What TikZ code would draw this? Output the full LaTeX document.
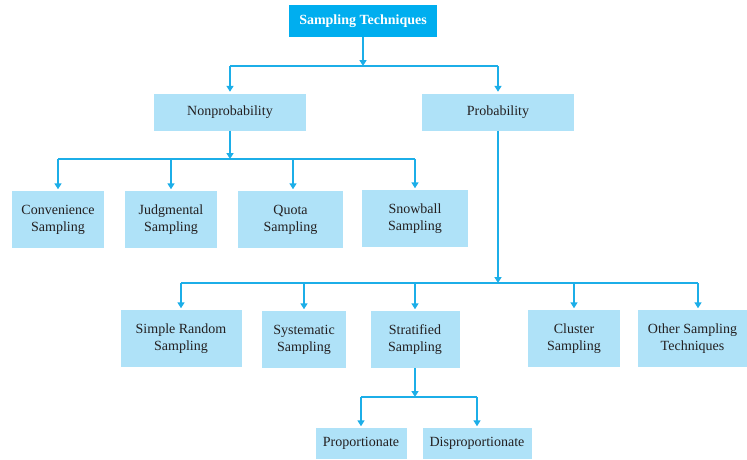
\documentclass[tikz,border=0pt]{standalone}
\usepackage{fontspec}
\setmainfont{Liberation Serif}
\usetikzlibrary{arrows.meta}
\definecolor{topc}{HTML}{00AEEF}
\definecolor{boxc}{HTML}{AFE2F8}
\definecolor{linec}{HTML}{1CAEE8}
\definecolor{txt}{HTML}{231F20}
\begin{document}
\begin{tikzpicture}[x=1pt,y=-1pt,
 box/.style={fill=boxc, text=txt, inner sep=0pt, align=center, font=\fontsize{14}{17}\selectfont},
 conn/.style={draw=linec, line width=1.8pt},
 arr/.style={conn, -{Triangle[length=6pt,width=7pt]}, shorten >=1.5pt},
]
\useasboundingbox (0,0) rectangle (747,459);
\node[box, fill=topc, text=white, font=\bfseries\fontsize{14}{17}\selectfont, minimum width=148pt, minimum height=32pt] (top) at (363,21) {Sampling Techniques};
\node[box, minimum width=152pt, minimum height=37pt] (nonprob) at (230,112) {Nonprobability};
\node[box, minimum width=152pt, minimum height=37pt] (prob) at (498,112) {Probability};
\node[box, minimum width=92pt, minimum height=57pt] (conv) at (58,219.5) {Convenience\\Sampling};
\node[box, minimum width=92pt, minimum height=57pt] (judg) at (171,219.5) {Judgmental\\Sampling};
\node[box, minimum width=105pt, minimum height=57pt] (quota) at (290.5,219.5) {Quota\\Sampling};
\node[box, minimum width=106pt, minimum height=57pt] (snow) at (415,218.5) {Snowball\\Sampling};
\node[box, minimum width=121pt, minimum height=57pt] (simple) at (181,338.5) {Simple Random\\Sampling};
\node[box, minimum width=84pt, minimum height=57pt] (syst) at (304,339.5) {Systematic\\Sampling};
\node[box, minimum width=89pt, minimum height=57pt] (strat) at (415,339.5) {Stratified\\Sampling};
\node[box, minimum width=92pt, minimum height=57pt] (clus) at (574,338.5) {Cluster\\Sampling};
\node[box, minimum width=109pt, minimum height=57pt] (other) at (692.5,338.5) {Other Sampling\\Techniques};
\node[box, minimum width=91pt, minimum height=31pt] (prop) at (361,443.5) {Proportionate};
\node[box, minimum width=109pt, minimum height=31pt] (disp) at (477,443.5) {Disproportionate};
% level 1
\coordinate (h1) at (363,66);
\draw[arr, shorten >=0pt] (top.south) -- (h1);
\draw[conn] (h1 -| nonprob.north) -- (h1 -| prob.north);
\draw[arr] (h1 -| nonprob.north) -- (nonprob.north);
\draw[arr] (h1 -| prob.north) -- (prob.north);
% nonprobability
\coordinate (h2) at (230,159);
\draw[arr, shorten >=0pt] (nonprob.south) -- (h2);
\draw[conn] (h2 -| conv.north) -- (h2 -| snow.north);
\draw[arr] (h2 -| conv.north) -- (conv.north);
\draw[arr] (h2 -| judg.north) -- (judg.north);
\draw[arr] ([xshift=2.5pt]h2 -| quota.north) -- ([xshift=2.5pt]quota.north);
\draw[arr] (h2 -| snow.north) -- (snow.north);
% probability
\coordinate (h3) at (498,283);
\draw[arr, shorten >=0pt] (prob.south) -- (h3);
\draw[conn] (h3 -| simple.north) -- ([xshift=5.5pt]h3 -| other.north);
\draw[arr] (h3 -| simple.north) -- (simple.north);
\draw[arr] (h3 -| syst.north) -- (syst.north);
\draw[arr] (h3 -| strat.north) -- (strat.north);
\draw[arr] (h3 -| clus.north) -- (clus.north);
\draw[arr] ([xshift=5.5pt]h3 -| other.north) -- ([xshift=5.5pt]other.north);
% stratified
\coordinate (h4) at (415,397);
\draw[arr, shorten >=0pt] (strat.south) -- (h4);
\draw[conn] (h4 -| prop.north) -- (h4 -| disp.north);
\draw[arr] (h4 -| prop.north) -- (prop.north);
\draw[arr] (h4 -| disp.north) -- (disp.north);
\end{tikzpicture}
\end{document}
